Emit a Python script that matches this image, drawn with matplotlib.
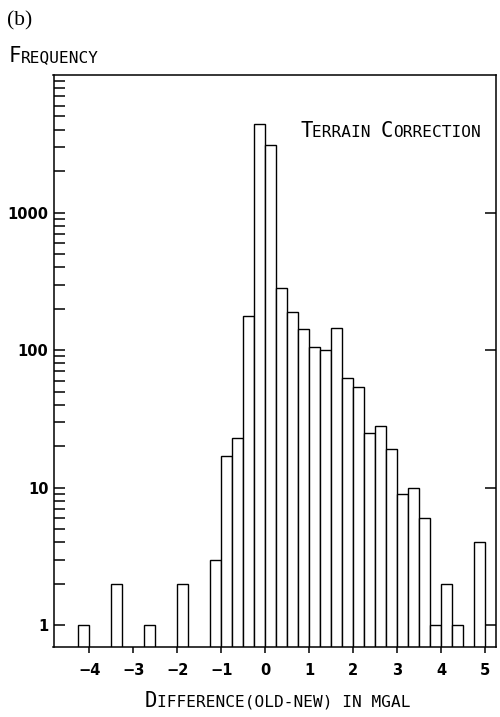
import matplotlib
matplotlib.use("Agg")
import matplotlib.pyplot as plt
from matplotlib.ticker import FixedLocator, NullFormatter

# histogram of (old - new) terrain correction differences, 0.25 mGal bins
bin_left = [-4.25, -3.5, -2.75, -2.0, -1.25, -1.0, -0.75, -0.5, -0.25, 0.0,
            0.25, 0.5, 0.75, 1.0, 1.25, 1.5, 1.75, 2.0, 2.25, 2.5,
            2.75, 3.0, 3.25, 3.5, 3.75, 4.0, 4.25, 4.75]
counts = [1, 2, 1, 2, 3, 17, 23, 178, 4400, 3100,
          282, 188, 143, 106, 101, 144, 63, 54, 25, 28,
          19, 9, 10, 6, 1, 2, 1, 4]
bin_width = 0.25

x_ticks = [-4, -3, -2, -1, 0, 1, 2, 3, 4, 5]
y_ticks = [1, 10, 100, 1000]
y_labels = ["1", "10", "100", "1000"]

MONO = "DejaVu Sans Mono"
ADV = 0.602  # glyph advance of DejaVu Sans Mono, in em
BIG, SMALL = 14.8, 11.6


def small_caps(fig, x, y, text, ha="left"):
    """Draw text as small caps: capitals large, lower case as small capitals.
    x, y are in figure pixels (baseline)."""
    parts = []
    for ch in text:
        size = BIG if ch.isupper() else SMALL
        if parts and parts[-1][1] == size:
            parts[-1][0] += ch.upper()
        else:
            parts.append([ch.upper(), size])
    widths = [len(t) * ADV * s / 72 for t, s in parts]
    x = x / 100
    if ha == "center":
        x -= sum(widths) / 2
    for (t, s), w in zip(parts, widths):
        fig.text(x, y / 100, t, fontsize=s, family=MONO, va="baseline",
                 ha="left", transform=fig.dpi_scale_trans)
        x += w


fig = plt.figure(figsize=(5, 7.17), dpi=100)
ax = fig.add_axes([0.107, 0.0976, 0.885, 0.7978])

ax.bar(bin_left, counts, width=bin_width, align="edge", log=True,
       facecolor="white", edgecolor="black", linewidth=1.0)

ax.set_xlim(-4.81, 5.24)
ax.set_ylim(0.695, 10000)

ax.set_xticks(x_ticks)
ax.set_xticklabels([str(v).replace("-", "\u2212") for v in x_ticks])
ax.yaxis.set_major_locator(FixedLocator(y_ticks))
ax.set_yticklabels(y_labels)
ax.yaxis.set_minor_locator(FixedLocator([k * 10 ** d for d in range(4) for k in range(2, 10)]))
ax.yaxis.set_minor_formatter(NullFormatter())

for s in ax.spines.values():
    s.set_linewidth(1.1)

ax.tick_params(axis="x", which="major", direction="out", length=4.5, width=1.1,
               pad=7, labelsize=10.5, top=False)
ax.tick_params(axis="y", which="both", direction="in", length=8, width=1.1,
               pad=3.6, labelsize=10.5, left=True, right=True)
ax.tick_params(axis="y", which="minor", right=False)
for lab in ax.get_xticklabels() + ax.get_yticklabels():
    lab.set_fontweight("bold")

# panel letter and lettered labels
fig.text(0.07, 6.92, "(b)", fontsize=15.5, family="Liberation Serif",
         va="baseline", transform=fig.dpi_scale_trans)
small_caps(fig, 9, 717 - 62, "Frequency")
small_caps(fig, 390, 717 - 136.7, "Terrain Correction", ha="center")
small_caps(fig, 276.5, 717 - 706.7, "Difference(old-new) in mgal", ha="center")

fig.savefig("out.png", dpi=100)
